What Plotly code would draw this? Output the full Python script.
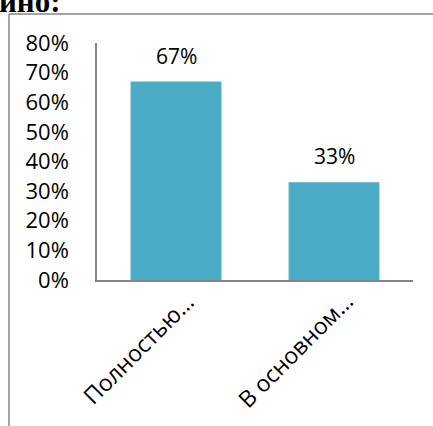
import plotly.graph_objects as go

categories = ["Полностью…", "В основном…"]
values = [0.67, 0.33]
value_labels = ["67%", "33%"]
y_tick_vals = [0, 0.1, 0.2, 0.3, 0.4, 0.5, 0.6, 0.7, 0.8]
y_tick_text = ["0%", "10%", "20%", "30%", "40%", "50%", "60%", "70%", "80%"]
title_fragment = "ино:"

W, H = 433, 426
ML, MR, MT, MB = 97, 20, 43, 146
pw, ph = W - ML - MR, H - MT - MB

def px_x(p):
    return (p - ML) / pw

def px_y(p):
    return 1 - (p - MT) / ph

FONT = "Open Sans"
BAR = "#4BACC6"
AX = "#868686"

fig = go.Figure()
fig.add_trace(go.Bar(
    x=categories, y=values, marker=dict(color=BAR, line=dict(width=0)),
    hoverinfo="skip",
))

for c, v, t in zip(categories, values, value_labels):
    fig.add_annotation(x=c, y=v, xref="x", yref="y", text=t, showarrow=False,
                       yanchor="middle", yshift=26,
                       font=dict(family=FONT, size=21, color="#000000"))

# Rotated category labels
for c in categories:
    fig.add_annotation(x=c, y=0, xref="x", yref="y", text=c, showarrow=False,
                       textangle=-45, xanchor="right", yanchor="top",
                       xshift=28, yshift=-3,
                       font=dict(family=FONT, size=23, color="#000000"))

# Cropped title fragment at the very top
fig.add_annotation(x=px_x(-3), y=px_y(10), xref="paper", yref="paper",
                   text="<b>" + title_fragment + "</b>", showarrow=False,
                   xanchor="left", yanchor="bottom", yshift=-11,
                   font=dict(family="Liberation Serif", size=31, color="#000000"))

# Outer chart frame (cropped on right and bottom)
fig.add_shape(type="line", xref="paper", yref="paper",
              x0=px_x(9), y0=px_y(14), x1=px_x(450), y1=px_y(14),
              line=dict(color=AX, width=1.5))
fig.add_shape(type="line", xref="paper", yref="paper",
              x0=px_x(9), y0=px_y(14), x1=px_x(9), y1=px_y(450),
              line=dict(color=AX, width=1.5))

fig.update_layout(
    width=W, height=H,
    margin=dict(l=ML, r=MR, t=MT, b=MB, pad=0, autoexpand=False),
    paper_bgcolor="white", plot_bgcolor="white",
    bargap=0.425, showlegend=False,
    font=dict(family=FONT, color="#000000"),
)
fig.update_xaxes(
    range=[-0.5, len(categories) - 0.5], autorange=False,
    showline=True, linecolor=AX, linewidth=1.5, showgrid=False, ticks="",
    showticklabels=False, automargin=False, fixedrange=True,
)
fig.update_yaxes(
    range=[0, 0.8], autorange=False, tickvals=y_tick_vals, ticktext=y_tick_text,
    showline=True, linecolor=AX, linewidth=1.5, showgrid=False, zeroline=False,
    ticks="", ticklabelstandoff=22, automargin=False,
    tickfont=dict(family=FONT, size=22, color="#000000"), fixedrange=True,
)

fig.write_html(
    "out.html",
    config={"displayModeBar": False},
    post_script="document.body.style.margin='0';document.body.style.overflow='hidden';",
)
